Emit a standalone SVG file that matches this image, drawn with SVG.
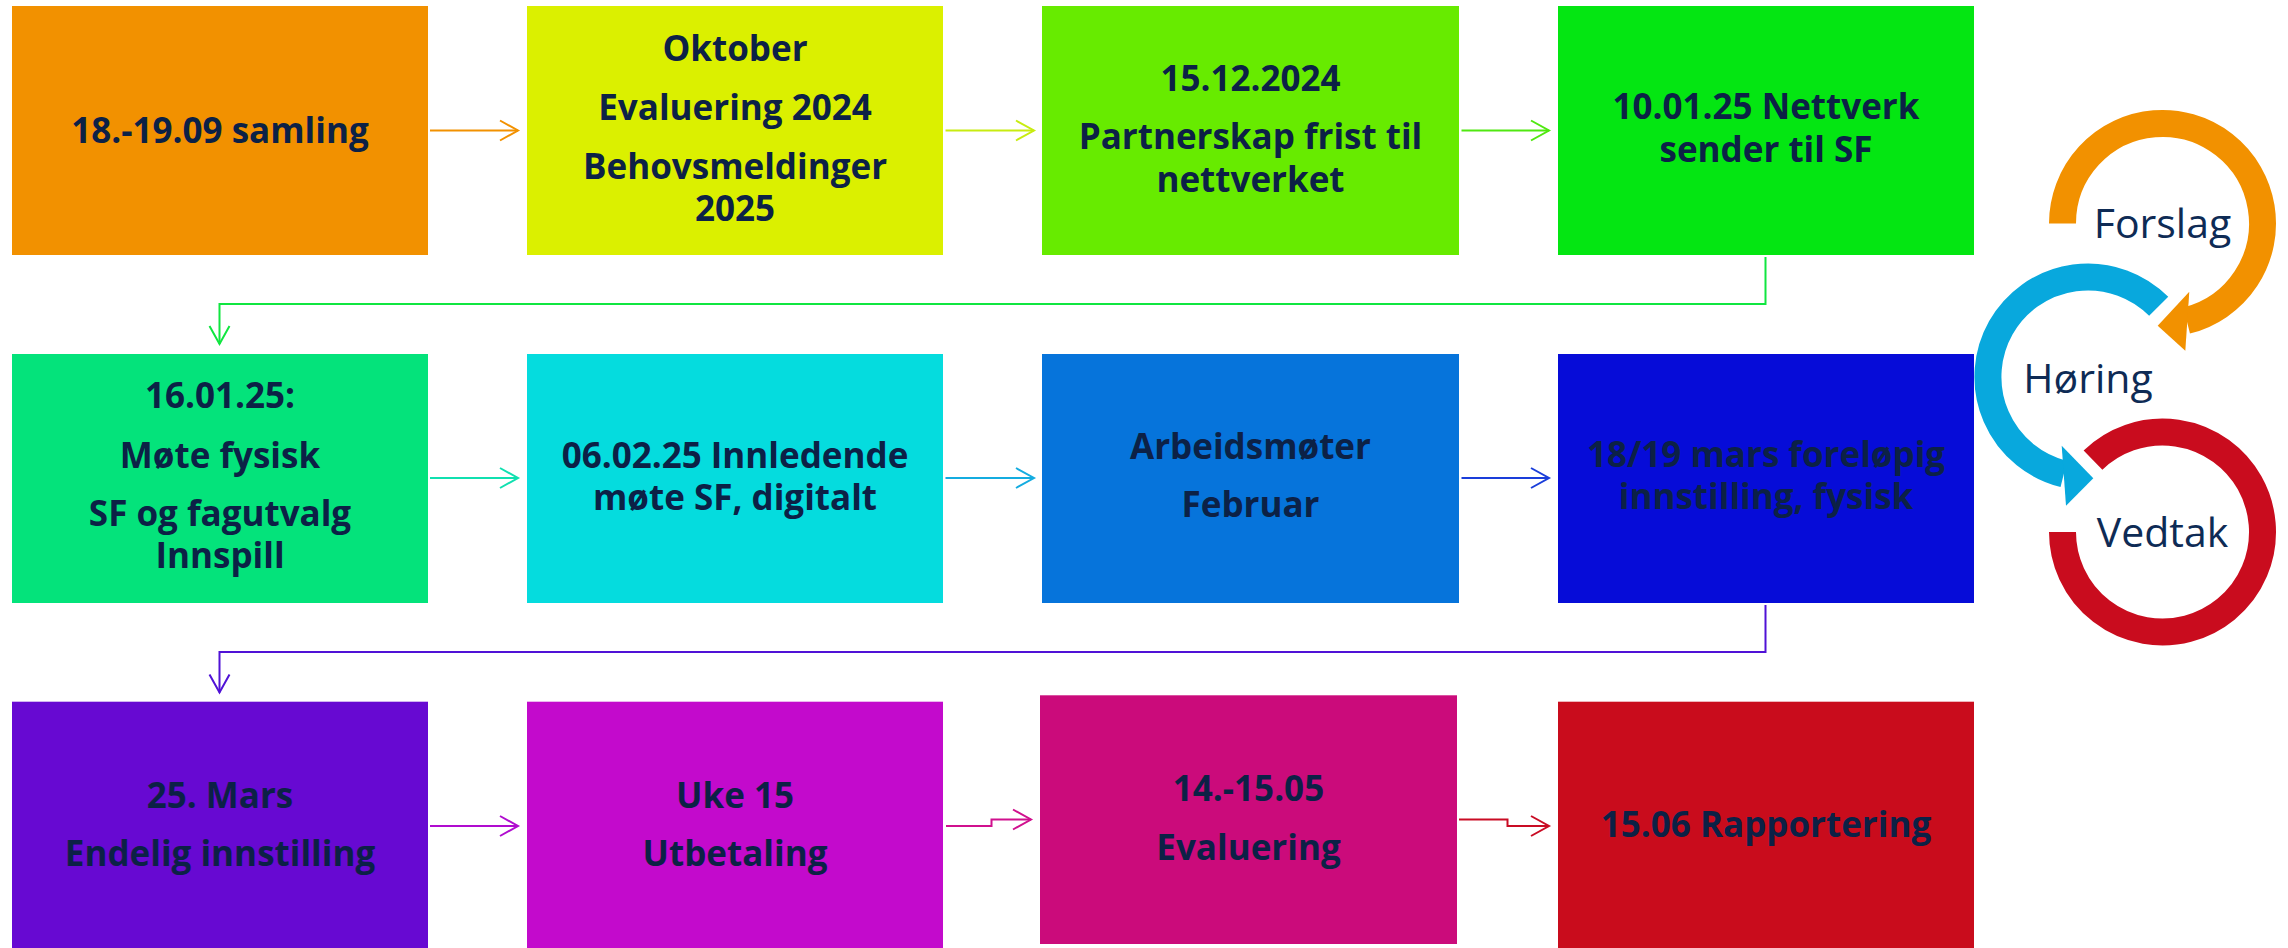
<svg xmlns="http://www.w3.org/2000/svg" width="2288" height="948" viewBox="0 0 2288 948">
<style>
.t{font-family:"Open Sans","Liberation Sans",sans-serif;font-weight:700;font-size:35px;fill:#0c2146;text-anchor:middle}
.r{font-family:"Open Sans","Liberation Sans",sans-serif;font-weight:400;font-size:41px;fill:#0e2b55;text-anchor:middle}
.c{fill:none;stroke-width:2}
.ring{fill:none;stroke-width:27}
</style>
<defs>
<marker id="m1" markerUnits="userSpaceOnUse" markerWidth="40" markerHeight="40" refX="0" refY="0" orient="auto" overflow="visible"><path d="M-18,-10 L0,0 L-18,10" fill="none" stroke="#F29100" stroke-width="2"/></marker>
<marker id="m2" markerUnits="userSpaceOnUse" markerWidth="40" markerHeight="40" refX="0" refY="0" orient="auto" overflow="visible"><path d="M-18,-10 L0,0 L-18,10" fill="none" stroke="#C8EC10" stroke-width="2"/></marker>
<marker id="m3" markerUnits="userSpaceOnUse" markerWidth="40" markerHeight="40" refX="0" refY="0" orient="auto" overflow="visible"><path d="M-18,-10 L0,0 L-18,10" fill="none" stroke="#50E810" stroke-width="2"/></marker>
<marker id="m4" markerUnits="userSpaceOnUse" markerWidth="40" markerHeight="40" refX="0" refY="0" orient="auto" overflow="visible"><path d="M-18,-10 L0,0 L-18,10" fill="none" stroke="#10E640" stroke-width="2"/></marker>
<marker id="m5" markerUnits="userSpaceOnUse" markerWidth="40" markerHeight="40" refX="0" refY="0" orient="auto" overflow="visible"><path d="M-18,-10 L0,0 L-18,10" fill="none" stroke="#10E0B0" stroke-width="2"/></marker>
<marker id="m6" markerUnits="userSpaceOnUse" markerWidth="40" markerHeight="40" refX="0" refY="0" orient="auto" overflow="visible"><path d="M-18,-10 L0,0 L-18,10" fill="none" stroke="#14ACE0" stroke-width="2"/></marker>
<marker id="m7" markerUnits="userSpaceOnUse" markerWidth="40" markerHeight="40" refX="0" refY="0" orient="auto" overflow="visible"><path d="M-18,-10 L0,0 L-18,10" fill="none" stroke="#1A3EDA" stroke-width="2"/></marker>
<marker id="m8" markerUnits="userSpaceOnUse" markerWidth="40" markerHeight="40" refX="0" refY="0" orient="auto" overflow="visible"><path d="M-18,-10 L0,0 L-18,10" fill="none" stroke="#5012D6" stroke-width="2"/></marker>
<marker id="m9" markerUnits="userSpaceOnUse" markerWidth="40" markerHeight="40" refX="0" refY="0" orient="auto" overflow="visible"><path d="M-18,-10 L0,0 L-18,10" fill="none" stroke="#B00CCF" stroke-width="2"/></marker>
<marker id="m10" markerUnits="userSpaceOnUse" markerWidth="40" markerHeight="40" refX="0" refY="0" orient="auto" overflow="visible"><path d="M-18,-10 L0,0 L-18,10" fill="none" stroke="#D0108E" stroke-width="2"/></marker>
<marker id="m11" markerUnits="userSpaceOnUse" markerWidth="40" markerHeight="40" refX="0" refY="0" orient="auto" overflow="visible"><path d="M-18,-10 L0,0 L-18,10" fill="none" stroke="#C90C24" stroke-width="2"/></marker>
</defs>
<rect width="2288" height="948" fill="#ffffff"/>

<g id="connectors">
<path class="c" stroke="#F29100" d="M430,130.5 H518" marker-end="url(#m1)"/>
<path class="c" stroke="#C8EC10" d="M945.5,130.5 H1034" marker-end="url(#m2)"/>
<path class="c" stroke="#50E810" d="M1461.5,130.5 H1549" marker-end="url(#m3)"/>
<path class="c" stroke="#10E640" d="M1765.5,257 V304 H219.5 V344" marker-end="url(#m4)"/>
<path class="c" stroke="#10E0B0" d="M430,478 H518" marker-end="url(#m5)"/>
<path class="c" stroke="#14ACE0" d="M945.5,478 H1034" marker-end="url(#m6)"/>
<path class="c" stroke="#1A3EDA" d="M1461.5,478 H1549" marker-end="url(#m7)"/>
<path class="c" stroke="#5012D6" d="M1765.5,605 V652 H219.5 V692.5" marker-end="url(#m8)"/>
<path class="c" stroke="#B00CCF" d="M430,826 H518" marker-end="url(#m9)"/>
<path class="c" stroke="#D0108E" d="M946,826 H991.5 V819.5 H1031" marker-end="url(#m10)"/>
<path class="c" stroke="#C90C24" d="M1459,819.5 H1507.5 V826 H1549" marker-end="url(#m11)"/>
</g>

<g id="n1"><rect x="12" y="6" width="416" height="249" fill="#F29100"/><text class="t" x="220" y="142.7">18.-19.09 samling</text></g>
<g id="n2"><rect x="527" y="6" width="416" height="249" fill="#DBF000"/><text class="t" x="735" y="61">Oktober</text><text class="t" x="735" y="120">Evaluering 2024</text><text class="t" x="735" y="179">Behovsmeldinger</text><text class="t" x="735" y="221">2025</text></g>
<g id="n3"><rect x="1042" y="6" width="417" height="249" fill="#67EB00"/><text class="t" x="1250.5" y="90.7">15.12.2024</text><text class="t" x="1250.5" y="149">Partnerskap frist til</text><text class="t" x="1250.5" y="191.7">nettverket</text></g>
<g id="n4"><rect x="1558" y="6" width="416" height="249" fill="#04E612"/><text class="t" x="1766" y="119">10.01.25 Nettverk</text><text class="t" x="1766" y="162">sender til SF</text></g>

<g id="n5"><rect x="12" y="354" width="416" height="249" fill="#04E37B"/><text class="t" x="220" y="408.3">16.01.25:</text><text class="t" x="220" y="467.7">Møte fysisk</text><text class="t" x="220" y="526">SF og fagutvalg</text><text class="t" x="220" y="568.3">Innspill</text></g>
<g id="n6"><rect x="527" y="354" width="416" height="249" fill="#05DCDE"/><text class="t" x="735" y="467.7">06.02.25 Innledende</text><text class="t" x="735" y="510">møte SF, digitalt</text></g>
<g id="n7"><rect x="1042" y="354" width="417" height="249" fill="#0674DB"/><text class="t" x="1250.5" y="459">Arbeidsmøter</text><text class="t" x="1250.5" y="517.3">Februar</text></g>
<g id="n8"><rect x="1558" y="354" width="416" height="249" fill="#060CD8"/><text class="t" x="1766" y="467.3">18/19 mars foreløpig</text><text class="t" x="1766" y="509.3">innstilling, fysisk</text></g>

<g id="n9"><rect x="12" y="701.7" width="416" height="246.3" fill="#6709D2"/><text class="t" x="220" y="807.7">25. Mars</text><text class="t" x="220" y="866">Endelig innstilling</text></g>
<g id="n10"><rect x="527" y="701.7" width="416" height="246.3" fill="#C30ACC"/><text class="t" x="735" y="807.7">Uke 15</text><text class="t" x="735" y="866">Utbetaling</text></g>
<g id="n11"><rect x="1040" y="695.3" width="417" height="248.7" fill="#CB0B7B"/><text class="t" x="1248.5" y="801.3">14.-15.05</text><text class="t" x="1248.5" y="860">Evaluering</text></g>
<g id="n12"><rect x="1558" y="701.7" width="416" height="246.3" fill="#C90C1C"/><text class="t" x="1766" y="837.3">15.06 Rapportering</text></g>

<g id="forslag">
<path class="ring" stroke="#F29100" d="M2062.5,223.5 A100,100 0 1 1 2186.7,320.5"/>
<polygon fill="#F29100" points="2189.3,291.7 2157.7,325.7 2185.3,350.7"/>
<text class="r" x="2162.5" y="237.5">Forslag</text>
</g>
<g id="horing">
<path class="ring" stroke="#08A8DD" d="M2158.7,306.3 A100,100 0 1 0 2063.8,474"/>
<polygon fill="#08A8DD" points="2061.7,445.7 2093.3,478.3 2066,505.7"/>
<text class="r" x="2088" y="393">Høring</text>
</g>
<g id="vedtak">
<path class="ring" stroke="#C90C1E" d="M2062.5,532 A100,100 0 1 0 2093,460.1"/>
<text class="r" x="2162.5" y="546.7">Vedtak</text>
</g>
</svg>
